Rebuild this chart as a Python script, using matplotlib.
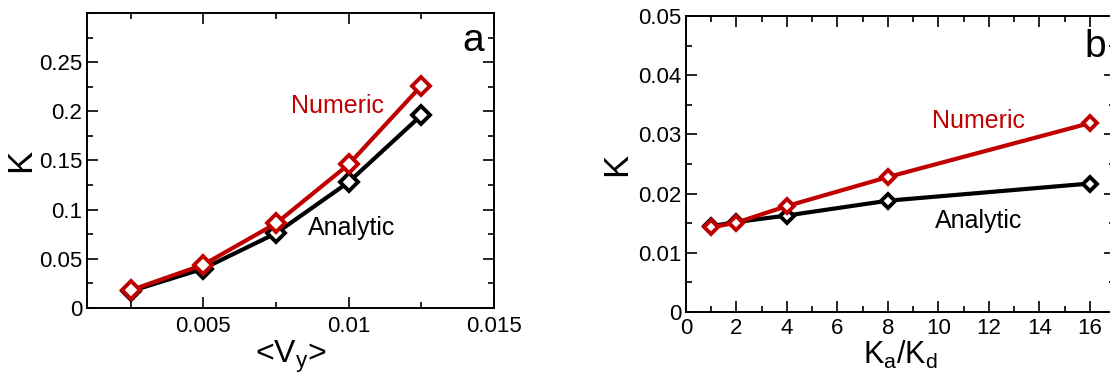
import matplotlib
matplotlib.use("Agg")
import matplotlib.pyplot as plt
from matplotlib.ticker import MultipleLocator, FuncFormatter

plt.rcParams['font.family'] = ['Liberation Sans', 'DejaVu Sans']
plt.rcParams['mathtext.fontset'] = 'custom'
plt.rcParams['mathtext.rm'] = 'Liberation Sans'
plt.rcParams['mathtext.it'] = 'Liberation Sans'

# panel a: K vs <Vy>
vy = [0.0025, 0.005, 0.0075, 0.01, 0.0125]
k_num_a = [0.018, 0.044, 0.086, 0.146, 0.226]
k_ana_a = [0.017, 0.040, 0.076, 0.128, 0.196]

# panel b: K vs Ka/Kd
ratio = [1, 2, 4, 8, 16]
k_num_b = [0.0143, 0.0151, 0.0179, 0.0228, 0.0319]
k_ana_b = [0.0145, 0.0152, 0.0163, 0.0188, 0.0217]

red = "#c00000"
W, H = 1110, 378

fig = plt.figure(figsize=(W / 100, H / 100), dpi=100)
ax1 = fig.add_axes([87 / W, 1 - 308 / H, 407 / W, 295 / H])
ax2 = fig.add_axes([686 / W, 1 - 312 / H, 429 / W, 296 / H])


def fmt(v, pos):
    return "%g" % round(v, 6)


def style(ax):
    ax.tick_params(which="both", direction="in", top=True, right=True,
                   labelsize=16, width=1.2)
    ax.tick_params(which="major", length=8)
    ax.tick_params(which="minor", length=4.5)
    for s in ax.spines.values():
        s.set_linewidth(1.4)


# a
ax1.plot(vy, k_ana_a, color="black", lw=3, marker="D", ms=9,
         mfc="white", mec="black", mew=2.8)
ax1.plot(vy, k_num_a, color=red, lw=3, marker="D", ms=9,
         mfc="white", mec=red, mew=2.8)
ax1.set_xlim(0.001, 0.015)
ax1.set_ylim(0, 0.3)
ax1.xaxis.set_major_locator(MultipleLocator(0.005))
ax1.xaxis.set_minor_locator(MultipleLocator(0.0025))
ax1.yaxis.set_major_locator(MultipleLocator(0.05))
ax1.yaxis.set_minor_locator(MultipleLocator(0.025))
ax1.xaxis.set_major_formatter(FuncFormatter(fmt))
ax1.yaxis.set_major_formatter(FuncFormatter(lambda v, p: "" if v > 0.26 else fmt(v, p)))
style(ax1)
ax1.tick_params(axis="x", pad=6)
ax1.set_xlabel(r"<V$_\mathregular{y}$>", fontsize=23, labelpad=1)
ax1.set_ylabel("K", fontsize=25, labelpad=1)
ax1.text(0.0096, 0.205, "Numeric", color=red, fontsize=18, ha="center", va="center")
ax1.text(0.0101, 0.081, "Analytic", color="black", fontsize=18, ha="center", va="center")
ax1.text(0.948, 0.905, "a", transform=ax1.transAxes, fontsize=28, ha="center", va="center")

# b
ax2.plot(ratio, k_ana_b, color="black", lw=3, marker="D", ms=7,
         mfc="white", mec="black", mew=2.8)
ax2.plot(ratio, k_num_b, color=red, lw=3, marker="D", ms=7,
         mfc="white", mec=red, mew=2.8)
ax2.set_xlim(0, 17)
ax2.set_ylim(0, 0.05)
ax2.xaxis.set_major_locator(MultipleLocator(2))
ax2.xaxis.set_minor_locator(MultipleLocator(1))
ax2.yaxis.set_major_locator(MultipleLocator(0.01))
ax2.yaxis.set_minor_locator(MultipleLocator(0.005))
ax2.xaxis.set_major_formatter(FuncFormatter(fmt))
ax2.yaxis.set_major_formatter(FuncFormatter(fmt))
style(ax2)
ax2.tick_params(axis="x", pad=4)
ax2.set_xlabel(r"K$_\mathregular{a}$/K$_\mathregular{d}$", fontsize=22, labelpad=0)
ax2.set_ylabel("K", fontsize=25, labelpad=3)
ax2.text(11.6, 0.0323, "Numeric", color=red, fontsize=18, ha="center", va="center")
ax2.text(11.6, 0.0154, "Analytic", color="black", fontsize=18, ha="center", va="center")
ax2.text(0.953, 0.895, "b", transform=ax2.transAxes, fontsize=28, ha="center", va="center")

fig.savefig("out.png", dpi=100)
